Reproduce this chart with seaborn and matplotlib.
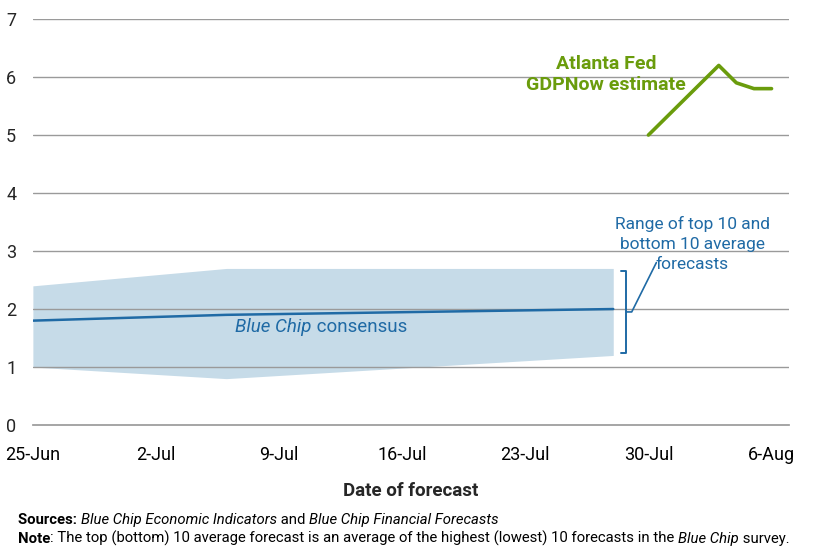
import matplotlib
matplotlib.use("Agg")
import matplotlib.pyplot as plt
import matplotlib.dates as mdates
from matplotlib import font_manager
import numpy as np
import pandas as pd
import seaborn as sns

# Blue Chip range and consensus
bc_dates = ["2021-06-25", "2021-07-06", "2021-07-28"]
bc_top10 = [2.4, 2.7, 2.7]
bc_bottom10 = [1.0, 0.8, 1.2]
bc_consensus = [1.8, 1.9, 2.0]

# Atlanta Fed GDPNow
gdpnow_dates = ["2021-07-30", "2021-08-03", "2021-08-04", "2021-08-05", "2021-08-06"]
gdpnow_values = [5.0, 6.2, 5.9, 5.8, 5.8]

tick_dates = ["2021-06-25", "2021-07-02", "2021-07-09", "2021-07-16",
              "2021-07-23", "2021-07-30", "2021-08-06"]
tick_labels = ["25-Jun", "2-Jul", "9-Jul", "16-Jul", "23-Jul", "30-Jul", "6-Aug"]

BLUE = "#1f6aa5"
BAND = "#c6dbe8"
GREEN = "#6a9c0c"
GRID = "#9a9a9a"

sns.set_theme(style="white")

# pick a family that actually has a bold face
bold_fams = {f.name for f in font_manager.fontManager.ttflist
             if f.weight in ("bold", 700, "700") or (isinstance(f.weight, int) and f.weight >= 600)}
main_font = "DejaVu Sans"
for fam in ["IBM Plex Sans", "Roboto", "Open Sans", "Lato", "Noto Sans", "Liberation Sans"]:
    if fam in bold_fams:
        main_font = fam
        break
plt.rcParams["font.family"] = [main_font, "DejaVu Sans"]

df_bc = pd.DataFrame({"date": pd.to_datetime(bc_dates), "top": bc_top10,
                      "bottom": bc_bottom10, "consensus": bc_consensus})
df_gdp = pd.DataFrame({"date": pd.to_datetime(gdpnow_dates), "value": gdpnow_values})

fig = plt.figure(figsize=(8.22, 5.6), dpi=100)
ax = fig.add_axes([0.040, 0.241, 0.920, 0.725])

ax.fill_between(df_bc["date"], df_bc["bottom"], df_bc["top"], color=BAND, lw=0, zorder=1)
sns.lineplot(data=df_bc, x="date", y="consensus", color=BLUE, lw=1.8, ax=ax, zorder=3)
sns.lineplot(data=df_gdp, x="date", y="value", color=GREEN, lw=2.6, ax=ax, zorder=3)

ax.set_ylim(0, 7)
ax.set_xlim(pd.Timestamp("2021-06-25"), pd.Timestamp("2021-08-07"))
ax.set_yticks(range(0, 8))
for v in range(1, 8):
    ax.axhline(v, color=GRID, lw=1, zorder=2)
ax.set_xticks(pd.to_datetime(tick_dates))
ax.set_xticklabels(tick_labels)
ax.tick_params(axis="x", length=6, width=1, color=GRID, labelsize=13, pad=9, labelcolor="black")
ax.tick_params(axis="y", length=0, labelsize=13, pad=12)
for s in ["top", "right", "left"]:
    ax.spines[s].set_visible(False)
ax.spines["bottom"].set_color(GRID)
ax.set_xlabel("Date of forecast", fontsize=13.5, fontweight="bold", labelpad=13)
ax.set_ylabel("")

# bracket for range
bx = mdates.date2num(pd.Timestamp("2021-07-29")) - 0.25
ax.plot([bx - 0.3, bx, bx, bx - 0.3], [2.65, 2.65, 1.24, 1.24], color=BLUE, lw=1.4, zorder=3)
ax.plot([bx, bx + 0.3, bx + 1.7], [1.95, 1.95, 2.8], color=BLUE, lw=1.2, zorder=3)
ax.text(mdates.date2num(pd.Timestamp("2021-08-01")) + 0.5, 3.12,
        "Range of top 10 and\nbottom 10 average\nforecasts", color=BLUE, fontsize=12.5,
        ha="center", va="center", linespacing=1.45)

ax.text(mdates.date2num(pd.Timestamp("2021-07-27")) + 0.6, 6.05, "Atlanta Fed\nGDPNow estimate",
        color=GREEN, fontsize=14, fontweight="bold", ha="center", va="center", linespacing=1.2)

fig.canvas.draw()
renderer = fig.canvas.get_renderer()


def write_runs(x, y, runs, size, color="black"):
    for s, style, weight in runs:
        t = fig.text(x, y, s, fontsize=size, style=style, weight=weight, color=color,
                     ha="left", va="baseline")
        bb = t.get_window_extent(renderer)
        x += bb.width / fig.bbox.width


# consensus label
cx, cy = ax.transData.transform((mdates.date2num(pd.Timestamp("2021-07-07")) - 0.5, 1.6))
cx, cy = fig.transFigure.inverted().transform((cx, cy))
write_runs(cx, cy, [("Blue Chip", "italic", "normal"), (" consensus", "normal", "normal")], 13.5, BLUE)

write_runs(0.022, 1 - 524 / 560, [("Sources: ", "normal", "bold"),
                                  ("Blue Chip Economic Indicators", "italic", "normal"),
                                  (" and ", "normal", "normal"),
                                  ("Blue Chip Financial Forecasts", "italic", "normal")], 10.7)
write_runs(0.022, 1 - 543 / 560, [("Note", "normal", "bold"),
                                  (": The top (bottom) 10 average forecast is an average of the highest (lowest) 10 forecasts in the ", "normal", "normal"),
                                  ("Blue Chip", "italic", "normal"),
                                  (" survey.", "normal", "normal")], 10.7)

fig.savefig("out.png", dpi=100)
